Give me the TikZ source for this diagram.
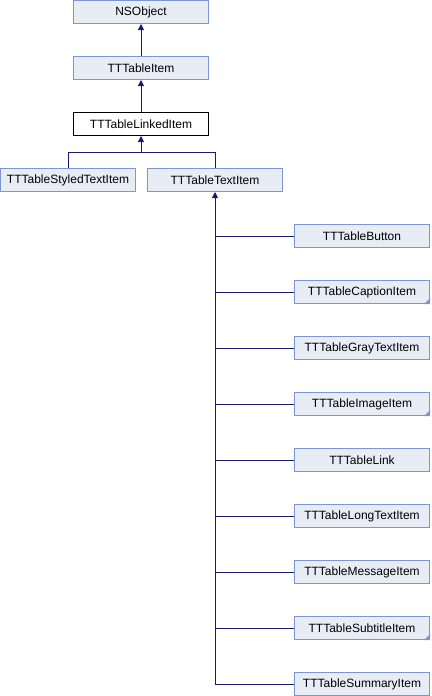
\documentclass[tikz,border=0pt]{standalone}
\usepackage{fontspec}
\setmainfont{Liberation Sans}
\usetikzlibrary{arrows.meta,positioning}
\definecolor{boxfill}{RGB}{232,236,245}
\definecolor{boxline}{RGB}{124,150,208}
\definecolor{edgeblue}{RGB}{25,25,112}
\tikzset{
	cls/.style={draw=boxline, fill=boxfill, line width=1pt, minimum width=135pt, minimum height=23pt, inner sep=0pt, font=\fontsize{12}{14}\selectfont},
	curcls/.style={cls, draw=black, fill=white},
	edge/.style={draw=edgeblue, line width=1pt},
	inh/.style={edge, {Triangle[length=6pt,width=6pt]}-},
	fold/.style={fill=boxline, draw=none}
}
\begin{document}
\begin{tikzpicture}[x=1pt, y=-1pt]
			\useasboundingbox (0,0) rectangle (431,696);
			
			%Base classes
			\node[cls] (nsobject) at (141,12) {NSObject};
			\node[cls] (item) at (141,68) {TTTableItem};
			\node[curcls] (linked) at (141,124) {TTTableLinkedItem};
			
			%Direct subclasses
			\node[cls] (styled) at (68,180) {TTTableStyledTextItem};
			\node[cls] (text) at (215,180) {TTTableTextItem};
			
			%Subclasses of TTTableTextItem
			\def\cx{362}
			\node[cls] (button) at (\cx,236) {TTTableButton};
			\node[cls] (caption) at (\cx,292) {TTTableCaptionItem};
			\node[cls] (gray) at (\cx,348) {TTTableGrayTextItem};
			\node[cls] (image) at (\cx,404) {TTTableImageItem};
			\node[cls] (link) at (\cx,460) {TTTableLink};
			\node[cls] (longtext) at (\cx,516) {TTTableLongTextItem};
			\node[cls] (message) at (\cx,572) {TTTableMessageItem};
			\node[cls] (subtitle) at (\cx,628) {TTTableSubtitleItem};
			\node[cls] (summary) at (\cx,684) {TTTableSummaryItem};
			
			%folded corners
			\fill[fold] (caption.south east) -- ++(-6,0) -- ++(6,-6) -- cycle;
			\fill[fold] (image.south east) -- ++(-6,0) -- ++(6,-6) -- cycle;
			\fill[fold] (subtitle.south east) -- ++(-6,0) -- ++(6,-6) -- cycle;
			
			%Inheritance
			\draw[inh] (nsobject) -- (item);
			\draw[inh] (item) -- (linked);
			\draw[inh] (linked.south) -- ++(0,16) -| (styled.north);
			\draw[edge] (linked.south) ++(0,16) -| (text.north);
			
			\draw[inh] (text.south) |- (summary.west);
			\draw[edge] (text.south |- button.west) -- (button.west);
			\draw[edge] (text.south |- caption.west) -- (caption.west);
			\draw[edge] (text.south |- gray.west) -- (gray.west);
			\draw[edge] (text.south |- image.west) -- (image.west);
			\draw[edge] (text.south |- link.west) -- (link.west);
			\draw[edge] (text.south |- longtext.west) -- (longtext.west);
			\draw[edge] (text.south |- message.west) -- (message.west);
			\draw[edge] (text.south |- subtitle.west) -- (subtitle.west);
\end{tikzpicture}
\end{document}
